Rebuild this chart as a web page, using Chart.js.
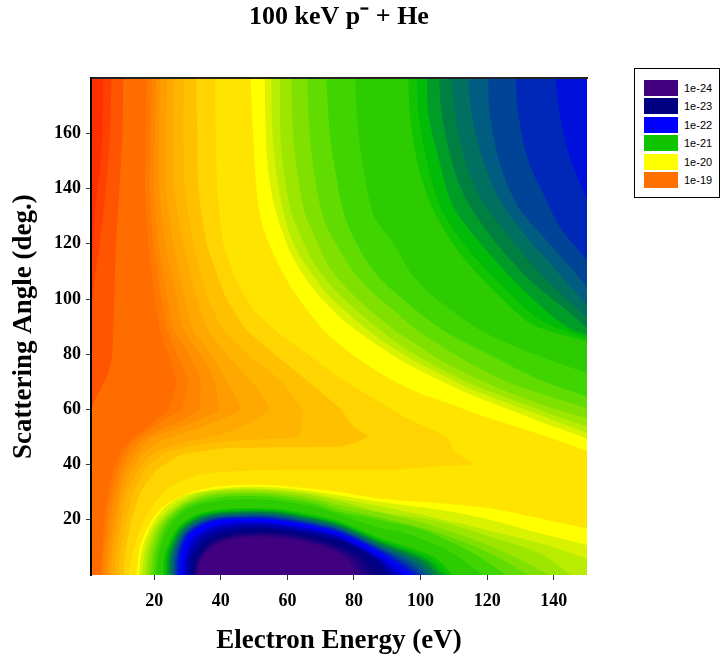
<!DOCTYPE html>
<html>
<head>
<meta charset="utf-8">
<title>100 keV p- + He</title>
<style>
  body { margin: 0; background: #fff; }
  #wrap { position: relative; width: 727px; height: 659px; overflow: hidden; }
  #legendBox { position: absolute; left: 634px; top: 68px; width: 84px; height: 128px; border: 1px solid #000; background: #fff; }
  .key { position: absolute; left: 9px; width: 34px; height: 16px; }
  .keyText { position: absolute; left: 49px; font: 11px "Liberation Sans", sans-serif; color: #000; line-height: 16px; }
</style>
</head>
<body>
<div id="wrap">
  <canvas id="chart" width="727" height="659"></canvas>
  <div id="legendBox"></div>
</div>
<script src="https://cdn.jsdelivr.net/npm/chart.js@4"></script>
<script>
// --- AXES ---
const xTicks = [20, 40, 60, 80, 100, 120, 140];
const yTicks = [20, 40, 60, 80, 100, 120, 140, 160];

// --- LEGEND ---
const legendLabels = ["1e-24", "1e-23", "1e-22", "1e-21", "1e-20", "1e-19"];
const legendColors = ["#400080", "#000080", "#0000ff", "#10c400", "#ffff00", "#ff7000"];

// --- CONTOUR BANDS: [eV, deg] outlines, painted in order ---
// high end: everything to the right of each curve
const highColors = ["#ff3000", "#ff4000", "#ff5400", "#ff6c00", "#ff7800", "#ff8400", "#ff9000", "#ff9c00", "#ffa800", "#ffb400", "#ffc000", "#ffd400", "#ffe400"];
const highEdges = [
  [[1,180],[1,0]],
  [[4.7,180],[4.5,160],[3.7,147],[2.5,135],[1.7,123],[1,110],[1,0]],
  [[7.2,180],[6.7,160],[5.5,140],[3.7,120],[2.2,108],[1,95],[1,0]],
  [[10.7,180],[10.5,160],[9.5,140],[8.5,120],[8,100],[7.7,88.8],[7.4,80],[6.2,73],[4.2,68],[1.5,61.6],[1,61],[1,0]],
  [[17.7,180],[17.5,160],[17.2,140],[18.2,120],[20.2,100],[21.7,88.8],[24.2,80],[26.7,70],[24.2,60],[20.7,56.2],[14.2,50],[10.2,45.3],[8.2,40],[6.2,30.8],[4.9,20.4],[4.5,10.3],[4.2,0]],
  [[19.2,180],[18.9,160],[18.5,140],[19.7,120],[22.2,100],[23.9,88.8],[26.7,80.3],[29.2,73.1],[30.2,70.1],[28.2,59.8],[23.7,56.8],[17.7,52],[12.7,47.1],[10.2,41.7],[7.7,33.2],[6.2,23.6],[5.3,13.9],[4.9,0]],
  [[20.5,180],[20.2,160],[19.9,140],[21.2,120],[23.9,100],[25.7,88.8],[29.7,81.6],[32.7,74.3],[33.9,70.1],[33.5,59.8],[27.7,55.6],[21.7,52.6],[15.7,48.3],[12.2,42.9],[9.7,35.6],[7.7,27.2],[6.5,16.3],[5.7,0]],
  [[21.7,180],[21.5,160],[21.5,140],[23.2,120],[26.7,100],[28.7,88.8],[32.7,81.6],[36.2,75.5],[38.2,70.1],[39.2,59.8],[33.7,56.2],[26.7,53.2],[18.7,49.5],[14.2,43.5],[11.2,36.9],[9.2,28.4],[7.5,16.3],[6.5,0]],
  [[23.9,180],[23.5,160],[23.5,140],[25.7,120],[29.2,100],[31.7,88.8],[37.7,79.1],[42.7,68.3],[46.2,60],[39.7,56.2],[31.7,52.6],[21.7,48.3],[16.2,43.5],[12.7,36.9],[10.2,28.4],[8.5,16.3],[7.4,0]],
  [[26,180],[25.7,160],[25.9,140],[28.7,120],[32.7,100],[36.2,88.8],[42.7,78.5],[49.7,69.5],[54.7,60],[47.7,54.4],[39.7,50.7],[29.7,48.3],[20.2,44.7],[15.2,38.1],[11.7,29.6],[9.7,16.3],[8.5,0]],
  [[28.9,180],[28.7,160],[29.2,140],[31.7,120],[36.2,100],[40.7,88.8],[49.7,78.5],[57.7,70.7],[64.5,60],[63.4,50.1],[47.7,49],[32.7,47.1],[22.7,44.1],[17.2,38.1],[13.7,29.6],[11.2,17.5],[9.7,0]],
  [[32.7,180],[32.9,160],[33.2,140],[35.7,120],[41.7,100],[47.7,88.8],[57.7,78.5],[75.8,60.4],[79.8,53.8],[84.3,50.1],[79.8,47.7],[75.8,46.5],[57.7,46.3],[40.7,45.9],[27.7,43.5],[20.2,37.5],[15.7,29.6],[12.7,17.5],[11.2,0]],
  [[38.2,180],[38.5,160],[38.9,140],[40.7,120],[44.2,108],[49.7,96],[56.2,88.8],[65.7,80.3],[75.8,71.3],[85.8,64],[95.8,56.8],[107.8,50.1],[110.3,44.7],[115.8,40.1],[105.8,39.5],[90.8,38.1],[75.8,38.1],[57.7,38.1],[42.7,37.5],[32.7,36.2],[24.7,32],[19.2,24.8],[15.7,16.3],[13.7,9],[12.7,0]]
];

// upper right, yellow through green to blue (last point of each runs just past the axis, it gets clipped)
const upperColors = ["#ffff00", "#d8f200", "#b8ec00", "#9ce600", "#80e000", "#60dc00", "#40d400", "#2ccc00", "#10c400", "#00bc08", "#009c28", "#008040", "#007060", "#005c80", "#004498", "#0028b8", "#0010dc"];
const upperEdges = [
  [[48.9,180],[49.7,160],[50.7,140],[52.2,128],[54.8,119],[59.8,106.9],[64.8,97.8],[71.8,87.6],[79.8,79.7],[89.8,71.8],[99.8,65.8],[105.8,63.4],[117.8,58],[131.8,52.6],[140.8,48.9],[150,45],[156,42.5]],
  [[53.2,180],[53.5,160],[54.2,146.8],[56,134],[58.3,125],[60.8,117.1],[64.8,108.7],[69.8,100.8],[76.8,92.4],[84.8,85.1],[94.8,77.3],[105.8,70.6],[115.8,65],[125.8,60.3],[135.8,55.6],[150,49.5],[156,47]],
  [[55.2,180],[55.5,160],[56.7,145.6],[58.5,133],[60.3,125],[63.3,116.5],[67.3,109.3],[71.8,102],[78.8,94.2],[86.8,86.3],[96.8,78.5],[105.8,73],[115.8,67],[135.8,58],[150,51.4],[156,48.6]],
  [[57.7,180],[57.9,160],[59.2,144.3],[61.2,131],[63.3,125],[66.3,116.5],[69.8,109.9],[74.8,102.7],[81.8,94.8],[89.8,86.9],[97.8,80.3],[105.8,74.9],[115.8,69],[135.8,59.8],[150,53.8],[156,51.3]],
  [[61.2,180],[61.7,160],[63.2,144.3],[65.2,131],[67.3,125],[69.8,118.4],[72.8,111.1],[77.8,103.9],[84.8,96],[92.8,88.2],[99.8,82.7],[105.8,77.9],[120.8,69],[135.8,62],[150,56.8],[156,54.6]],
  [[65.9,180],[66.7,160],[68.2,144.3],[70,133],[72.3,125],[76.3,116.5],[79.8,109.9],[84.8,103.3],[91.8,96],[98.8,88.8],[105.8,83.3],[110.8,79.5],[125.8,70],[150,60.4],[156,58]],
  [[71.7,180],[72.7,160],[74.7,144.3],[76.5,133],[78.8,125],[81.8,117.8],[85.3,111.1],[89.8,105.1],[96.8,97.8],[105.8,89.4],[119.8,80.3],[135.8,70.7],[150,64.6],[156,62]],
  [[80.3,180],[81.3,160],[83.8,140.7],[86,130],[88.8,125],[92.3,119],[96.8,109.9],[101.8,103.3],[105.8,99],[117.8,88.8],[130.8,81.6],[150,73.1],[156,70.5]],
  [[96.3,180],[96.8,167.3],[99.3,148],[103.8,132.3],[111.8,116.6],[122.8,102.1],[132.8,91.2],[137.8,88.8],[150,84.6],[156,82.5]],
  [[99,180],[99.3,167.3],[102.3,148],[106.3,132.3],[115.3,116.6],[125.8,103.3],[135.8,92.4],[142.8,88.8],[150,85.8],[156,83.3]],
  [[102,180],[102.3,167.3],[105.8,149.2],[109.8,133.5],[118.8,119],[129.8,104.5],[139.8,93.6],[145.8,88.8],[150,87],[156,84.4]],
  [[105.6,180],[106.3,167.3],[109.8,148],[114.3,134.7],[122.8,120.2],[132.8,106.9],[143.8,96],[150,89.4],[156,83]],
  [[109.2,180],[110.3,167.3],[113.3,150.4],[117.8,137],[125.8,123.8],[135.8,109.3],[150,93],[156,86]],
  [[114.3,180],[115.3,167.3],[118.8,150.4],[123.8,135.9],[131.8,122.6],[139.8,111.7],[150,97.8],[156,89.6]],
  [[120.3,180],[120.8,167.3],[123.8,149.2],[129.3,133.5],[136.8,122.6],[150,104.5],[156,96.3]],
  [[128.6,180],[129.3,167.3],[132.3,150.4],[136.8,138.3],[141.8,126.2],[150,114.1],[156,105.2]],
  [[140.6,180],[141.8,167.3],[144.8,151.6],[150,135.9],[156,118]]
];

// lower dip, same ramp carried on down to purple
const lowerColors = ["#ffff00", "#d8f200", "#b8ec00", "#9ce600", "#80e000", "#60dc00", "#40d400", "#2ccc00", "#10c400", "#00bc08", "#009c28", "#008040", "#007060", "#005c80", "#004498", "#0028b8", "#0010dc", "#0000ff", "#0000e0", "#0000c0", "#0000a8", "#000090", "#000080", "#100080", "#200080", "#300080", "#400080"];
const lowerEdges = [
  [[14.7,0],[15.7,10.2],[18.7,18.7],[22.7,24.7],[28.7,28.9],[35.7,31.4],[45.7,32.6],[55.7,32.6],[65.7,31.4],[75.7,30.1],[87.7,27.7],[105.8,26],[120.8,24.2],[135.8,20.5],[150,16.9],[156,15.4],[156,0]],
  [[15.4,0],[16.4,9.6],[19.4,18.4],[23.4,24.7],[29.3,28.9],[36.5,30.8],[45.7,31.9],[55.7,31.8],[65.7,30.6],[75.8,28.8],[90.8,26],[105.8,23.6],[120.8,20],[135.8,15.1],[150,10.9],[156,9.1],[156,0]],
  [[16.3,0],[17.3,9.3],[20.3,18.2],[25.3,24.7],[33,29.6],[45.7,31.3],[55.7,31.1],[65.7,29.9],[75.8,27.6],[95.8,23],[115.8,17.5],[135.8,11.5],[150,6],[156,3.7],[156,0]],
  [[17.2,0],[18.2,9],[21.2,18.1],[26.7,24.7],[34.7,29.5],[45.7,30.8],[55.7,30.5],[67.7,28.9],[75.8,26.8],[87.7,22.9],[105.8,19.3],[120.8,13.9],[135.8,7.9],[145.3,0]],
  [[18,0],[19,9],[22,18.2],[27.7,24.9],[35.7,29],[45.7,30.1],[55.7,29.8],[67.7,27.9],[75.8,25.4],[95.8,20.5],[110.8,15.1],[125.8,7.9],[138.8,0]],
  [[18.9,0],[19.9,9],[22.9,18.4],[28.7,25],[36.7,28.5],[45.7,29.4],[55.7,29.1],[67.7,27],[75.8,24],[90.8,20],[105.8,15.1],[120.8,7.9],[132.3,0]],
  [[19.8,0],[20.8,9],[24,18.6],[30,24.9],[39,28],[47,28.6],[55.7,28.2],[67.7,25.9],[75.8,22.8],[85.8,20.5],[100.8,16.3],[115.8,7.9],[125.8,0]],
  [[20.7,0],[21.7,9],[25.2,18.7],[31.7,24.7],[41.7,27.1],[55.7,27.1],[67.7,24.7],[75.8,21.8],[87.7,17],[95.8,15],[108.8,8.5],[118.8,0]],
  [[22.7,0],[23.2,7.8],[27.2,17.5],[33.7,22.3],[43.7,24.1],[55.7,24.1],[65.7,22.3],[75.7,19.5],[87.7,13.5],[103.8,6.7],[109.8,0]],
  [[23.3,0],[23.8,7.8],[27.6,17.2],[34.2,22],[44.4,23.7],[55.7,23.6],[65.7,21.8],[75.7,19],[87.7,12.9],[102.6,6.3],[108.4,0]],
  [[23.8,0],[24.3,7.8],[28,16.9],[34.8,21.7],[45,23.2],[55.7,23.2],[65.7,21.3],[75.7,18.5],[87.7,12.3],[101.5,5.9],[107,0]],
  [[24.4,0],[24.9,7.8],[28.5,16.7],[35.3,21.4],[45.7,22.8],[55.7,22.7],[65.7,20.9],[75.7,18],[87.7,11.7],[100.3,5.6],[105.6,0]],
  [[24.9,0],[25.4,7.8],[28.9,16.4],[35.8,21.1],[46.4,22.4],[55.7,22.2],[65.7,20.4],[75.7,17.5],[87.7,11.1],[99.1,5.2],[104.2,0]],
  [[25.5,0],[26,7.8],[29.3,16.1],[36.4,20.8],[47,22],[55.7,21.8],[65.7,19.9],[75.7,17],[87.7,10.5],[98,4.8],[102.9,0]],
  [[26,0],[26.5,7.8],[29.7,15.8],[36.9,20.4],[47.7,21.5],[55.7,21.3],[65.7,19.4],[75.7,16.5],[87.7,9.9],[96.8,4.4],[101.5,0]],
  [[26.6,0],[27.1,7.8],[30.1,15.5],[37.4,20.1],[48.4,21.1],[55.7,20.8],[65.7,18.9],[75.7,16],[87.7,9.3],[95.6,4],[100.1,0]],
  [[27.1,0],[27.6,7.8],[30.6,15.3],[37.9,19.8],[49.1,20.7],[55.7,20.3],[65.7,18.5],[75.7,15.5],[87.7,8.7],[94.4,3.7],[98.7,0]],
  [[27.7,0],[28.2,7.8],[31,15],[38.5,19.5],[49.7,20.2],[55.7,19.9],[65.7,18],[75.7,15],[87.7,8],[93.3,3.3],[97.3,0]],
  [[28.4,0],[29,7.6],[32,14.5],[39.4,18.6],[50.3,19.5],[65.7,17.4],[75.7,14.4],[87.7,7],[92.5,3],[95.3,0]],
  [[29,0],[29.8,7.5],[33,14],[40.4,18],[50.9,18.9],[65.7,16.8],[75.7,13.9],[87.7,6.2],[91,3],[93.8,0]],
  [[29.6,0],[30.5,7.3],[34,13.6],[41.4,17.3],[51.5,18.2],[65.7,16.2],[75.7,13.3],[87.7,5.5],[90,2.6],[92.3,0]],
  [[30.4,0],[31.3,7],[35,13.2],[42.5,16.5],[52.5,17.4],[65.7,15.5],[75.7,12.7],[87.7,4.8],[89,2.5],[90.8,0]],
  [[31.2,0],[32.2,6.7],[36.2,12.7],[43.7,15.7],[53.7,16.7],[65.7,14.9],[75.8,12.1],[82.8,8.5],[87.8,4.2],[89.8,0]],
  [[31.8,0],[33,6.2],[37,12],[44,14.8],[53,15.6],[64,14.2],[74,11],[82,6.5],[86.8,0]],
  [[32.2,0],[33.4,6.1],[37.4,11.5],[44.3,14.3],[52.9,15],[63.5,13.7],[73,10.6],[80.5,6.2],[84.8,0]],
  [[32.5,0],[33.8,6],[37.8,11.1],[44.5,13.7],[52.8,14.4],[63,13.1],[72.4,10.1],[79,6.1],[82.8,0]],
  [[32.7,0],[34.2,6],[38.2,10.8],[44.7,13.2],[52.7,13.8],[62.7,12.6],[71.7,9.6],[77.7,6],[80.7,0]]
];

const plotCorners = [[150, 0], [150, 180]];
const topRight = [[156, 180]];

// --- BUILD DATASETS ---
function bandDataset(points, color, tension) {
  return {
    data: points,
    showLine: true,
    fill: 'shape',
    backgroundColor: color,
    borderWidth: 0,
    pointRadius: 0,
    pointHoverRadius: 0,
    tension: tension
  };
}

let bands = [];
// high curves keep their sharp noses, the rest are smooth arcs
highEdges.forEach((edge, i) => bands.push(bandDataset(edge.concat(plotCorners), highColors[i], 0.1)));
upperEdges.forEach((edge, i) => {
  bands.push(bandDataset(edge.concat(topRight), upperColors[i], 0.3));
  if (lowerEdges[i]) bands.push(bandDataset(lowerEdges[i], lowerColors[i], 0.3));
});
lowerEdges.slice(upperEdges.length).forEach((edge, i) => {
  bands.push(bandDataset(edge, lowerColors[upperEdges.length + i], 0.3));
});
// the library paints the first dataset last
bands.reverse();

const serifBold = size => ({ family: '"Liberation Serif"', weight: 'bold', size: size });

new Chart(document.getElementById('chart'), {
  type: 'scatter',
  data: { datasets: bands },
  options: {
    responsive: false,
    animation: false,
    events: [],
    layout: { padding: { right: 140 } },
    plugins: {
      legend: { display: false },
      tooltip: { enabled: false },
      title: {
        display: true,
        fullSize: false,
        text: '100 keV p\u207B + He',
        color: '#000',
        font: serifBold(26),
        padding: { top: 2, bottom: 45 }
      }
    },
    scales: {
      x: {
        type: 'linear',
        min: 1,
        max: 150,
        afterBuildTicks: axis => { axis.ticks = xTicks.map(v => ({ value: v })); },
        afterFit: axis => { axis.height = 84; },
        grid: { drawOnChartArea: false, tickLength: 5, tickColor: '#333', tickWidth: 1 },
        border: { display: false },
        ticks: { color: '#000', maxRotation: 0, autoSkip: false, padding: 11, font: serifBold(18) },
        title: { display: true, text: 'Electron Energy (eV)', color: '#000', padding: { top: 2, bottom: 2 }, font: serifBold(27) }
      },
      top: {
        type: 'linear',
        position: 'top',
        min: 1,
        max: 150,
        afterFit: axis => { axis.height = 0; },
        grid: { display: false },
        ticks: { display: false },
        border: { display: true, color: '#222', width: 2, z: 1 }
      },
      y: {
        type: 'linear',
        min: 0,
        max: 180,
        afterBuildTicks: axis => { axis.ticks = yTicks.map(v => ({ value: v })); },
        afterFit: axis => { axis.width = 91; },
        grid: { drawOnChartArea: false, tickLength: 5, tickColor: '#333', tickWidth: 1 },
        border: { display: true, color: '#000', width: 2, z: 1 },
        ticks: { color: '#000', autoSkip: false, padding: 5, font: serifBold(18) },
        title: { display: true, text: 'Scattering Angle (deg.)', color: '#000', padding: { top: 8, bottom: 0 }, font: serifBold(27) }
      }
    }
  }
});

// --- LEGEND BOX ---
const legendBox = document.getElementById('legendBox');
legendLabels.forEach((label, i) => {
  const top = 11 + i * 18.4;
  legendBox.innerHTML += `<div class="key" style="top:${top}px;background:${legendColors[i]}"></div>` +
    `<div class="keyText" style="top:${top}px">${label}</div>`;
});
</script>
</body>
</html>
